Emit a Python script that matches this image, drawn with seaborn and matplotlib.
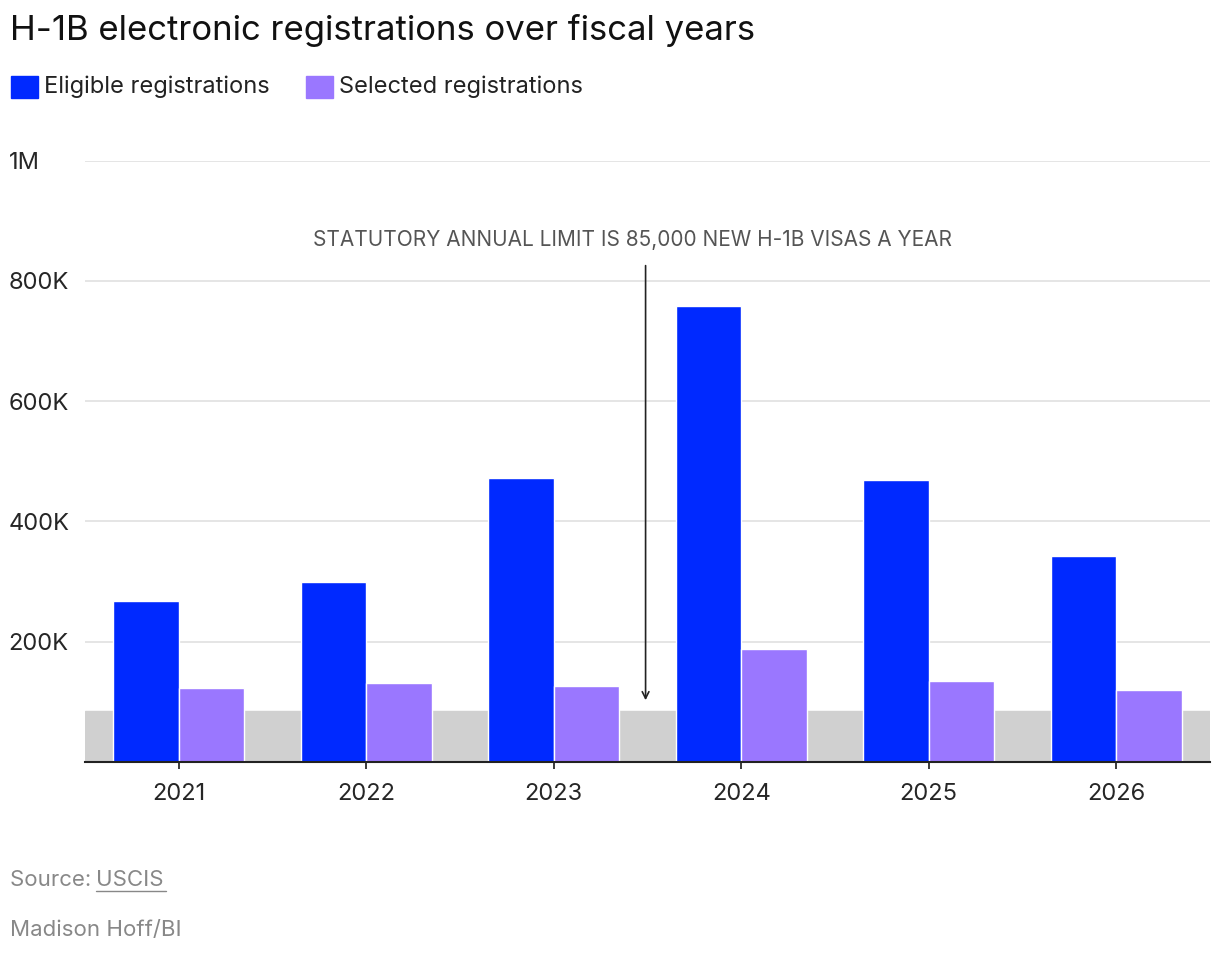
import pandas as pd
import matplotlib
matplotlib.use('Agg')
import matplotlib.pyplot as plt
import seaborn as sns

years = ['2021', '2022', '2023', '2024', '2025', '2026']
eligible = [268000, 300000, 473000, 758000, 469000, 343000]
selected = [123000, 131000, 126000, 188000, 135000, 120000]
limit = 85000

df = pd.DataFrame({
    'year': years * 2,
    'value': eligible + selected,
    'kind': ['Eligible registrations'] * 6 + ['Selected registrations'] * 6,
})

sns.set_theme(style='white')
plt.rcParams['font.family'] = ['Inter', 'DejaVu Sans']

fig = plt.figure(figsize=(12.2, 9.56), dpi=100)
ax = fig.add_axes([0.0697, 0.203, 0.922, 0.629])

ax.axhspan(0, limit, color='#d0d0d0', zorder=0)
sns.barplot(data=df, x='year', y='value', hue='kind', ax=ax, width=0.7,
            palette=['#0029ff', '#9a77ff'], saturation=1, zorder=2, legend=False)

ax.set_ylim(0, 1e6)
ax.set_xlim(-0.5, 5.5)
ax.set_yticks([200000, 400000, 600000, 800000, 1000000])
ax.set_yticklabels(['200K', '400K', '600K', '800K', '1M'])
ax.yaxis.grid(True, color='#e0e0e0', lw=1.2, zorder=1)
ax.set_axisbelow(True)
for s in ['top', 'right', 'left']:
    ax.spines[s].set_visible(False)
ax.spines['bottom'].set_color('#222222')
ax.spines['bottom'].set_linewidth(1.5)
ax.set_xlabel('')
ax.set_ylabel('')
ax.tick_params(axis='x', labelsize=17, pad=10, length=5, color='#222222', bottom=True)
ax.tick_params(axis='y', labelsize=17, length=0, pad=0)
for lab in ax.get_yticklabels():
    lab.set_horizontalalignment('left')
    lab.set_x(-0.068)

ax.annotate('', xy=(2.49, 98000), xytext=(2.49, 830000),
            arrowprops=dict(arrowstyle='->', color='#222222', lw=1.2))
ax.text(2.42, 868000, 'STATUTORY ANNUAL LIMIT IS 85,000 NEW H-1B VISAS A YEAR',
        ha='center', va='center', fontsize=15, color='#555555')

fig.text(0.008, 0.968, 'H-1B electronic registrations over fiscal years',
         fontsize=25, va='center', color='#111111')
fig.patches.append(plt.Rectangle((0.009, 0.897), 0.022, 0.0235,
                                 transform=fig.transFigure, color='#0029ff'))
fig.text(0.036, 0.909, 'Eligible registrations', fontsize=17, va='center', color='#222222')
fig.patches.append(plt.Rectangle((0.251, 0.897), 0.022, 0.0235,
                                 transform=fig.transFigure, color='#9a77ff'))
fig.text(0.278, 0.909, 'Selected registrations', fontsize=17, va='center', color='#222222')

fig.text(0.008, 0.079, 'Source: ', fontsize=16, va='center', color='#888888')
fig.text(0.079, 0.079, 'USCIS', fontsize=16, va='center', color='#888888')
fig.add_artist(plt.Line2D([0.079, 0.136], [0.068, 0.068], color='#888888', lw=1))
fig.text(0.008, 0.027, 'Madison Hoff/BI', fontsize=16, va='center', color='#888888')

fig.savefig('out.png', dpi=100)
